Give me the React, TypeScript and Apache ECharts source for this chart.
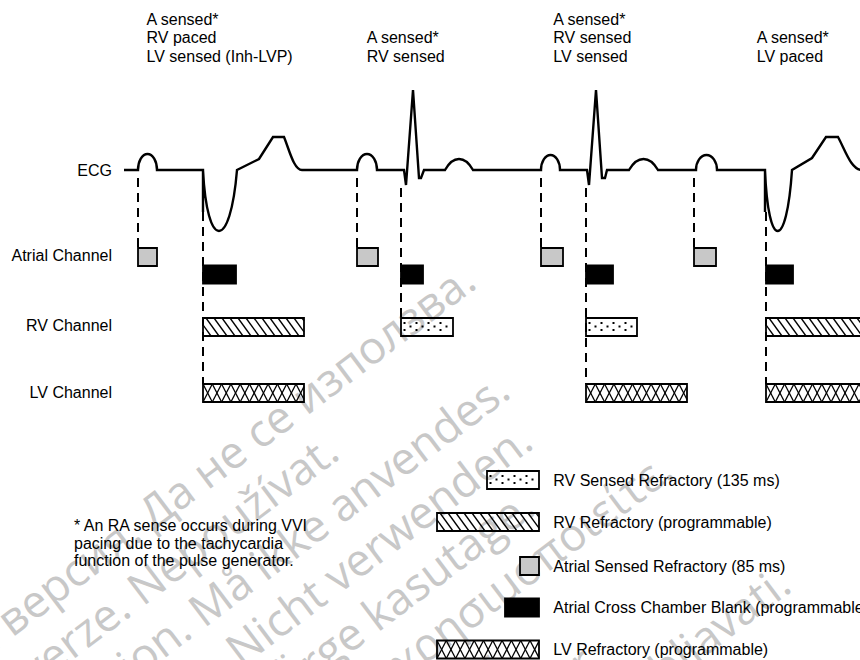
import { useEffect, useRef } from "react";
import * as echarts from "echarts";

const FONT = "'Liberation Sans', Arial, Helvetica, sans-serif";
const WM_FONT = "'Open Sans', 'Noto Sans', sans-serif";

// ---------------- data ----------------
// ECG trace: [shape, time, amplitude]  (P = P-wave dome, T = T-wave hump,
// S = pacing spike, U = paced QRS trough, D = curved return to baseline)
const ecgTrace: [string, number, number][] = [
  ["M", 124, 0],
  ["L", 138, 0],
  ["P", 157, 16],
  ["L", 203, 0],
  ["S", 203, -42],
  ["U", 237, -61],
  ["L", 259, 11],
  ["L", 273, 33],
  ["L", 284, 33],
  ["D", 302, 0],
  ["L", 357, 0],
  ["P", 377, 16],
  ["L", 404, 0],
  ["L", 406, -15],
  ["L", 413, 80],
  ["L", 419, -8],
  ["L", 421, -8],
  ["L", 424, 0],
  ["L", 445, 0],
  ["T", 473, 11],
  ["L", 541, 0],
  ["P", 560, 15],
  ["L", 587, 0],
  ["L", 589, -15],
  ["L", 596, 80],
  ["L", 602, -8],
  ["L", 605, -8],
  ["L", 607, 0],
  ["L", 629, 0],
  ["T", 658, 11],
  ["L", 696, 0],
  ["P", 717, 15],
  ["L", 765, 0],
  ["S", 765, -42],
  ["U", 792, -61],
  ["L", 812, 12],
  ["L", 826, 33],
  ["L", 838, 33],
  ["D", 862, 0],
];

const atrialRefStart = [138, 357, 541, 694];
const atrialRefEnd = [157, 378, 563, 716];
const blankStart = [203, 401, 586, 766];
const blankEnd = [236, 423, 613, 793];
const rvStart = [203, 401, 586, 766];
const rvEnd = [304, 453, 637, 900];
const rvKind = ["paced", "sensed", "sensed", "paced"];
const lvStart = [203, 586, 766];
const lvEnd = [304, 687, 900];

const markerTime = [138, 203, 357, 401, 541, 586, 694, 766];
const markerFromAmp = [-8, -42, -8, -18, -8, -18, -8, -42];
const markerLane = ["atrial", "lv", "atrial", "rv", "atrial", "lv", "atrial", "lv"];

const channelLabels = ["ECG", "Atrial Channel", "RV Channel", "LV Channel"];
const beatNotes = [
  "A sensed*\nRV paced\nLV sensed (Inh-LVP)",
  "A sensed*\nRV sensed",
  "A sensed*\nRV sensed\nLV sensed",
  "A sensed*\nLV paced",
];
const footnote =
  "* An RA sense occurs during VVI\npacing due to the tachycardia\nfunction of the pulse generator.";
const legendKinds = ["rvSensed", "rvRef", "atrialRef", "blank", "lvRef"];
const legendLabels = [
  "RV Sensed Refractory (135 ms)",
  "RV Refractory (programmable)",
  "Atrial Sensed Refractory (85 ms)",
  "Atrial Cross Chamber Blank (programmable)",
  "LV Refractory (programmable)",
];
const watermarkLines = [
  "Остаряла версия. Да не се използва.",
  "Zastaralá verze. Nepoužívat.",
  "Forældet version. Må ikke anvendes.",
  "Veraltete Version. Nicht verwenden.",
  "Aegunud versioon. Ärge kasutage.",
  "Παλιά έκδοση. Μην την χρησιμοποιείτε.",
  "Versión obsoleta. No utilizar.",
  "Version périmée. Ne pas utiliser.",
  "Zastarjela verzija. Nemojte upotrebljavati.",
];

// ---------------- layout ----------------
const LANES = ["atrial", "blank", "rv", "lv"];
const LANE_TOP: Record<string, number> = { atrial: -78, blank: -95.5, rv: -148, lv: -214 };
const BAR_H = 18;
const KINDS = ["atrialRef", "blank", "rvRef", "rvSensed", "lvRef"];
const LABEL_RIGHT = 112;
const LABEL_Y = [170, 255, 325, 392];
const NOTE_POS = [
  [146.5, 10],
  [366.7, 28.5],
  [553.3, 10],
  [756.7, 28.5],
];
const LEGEND_BOX = [
  [487, 471, 52, 18],
  [437, 513, 102, 18],
  [520, 557, 19, 18],
  [505, 598.5, 34, 18],
  [437, 640.5, 102, 18],
];
const LEGEND_TEXT_X = 553.3;
const WM_ANGLE = (37 * Math.PI) / 180;
const WM_SIZE = 45;
const WM_U0 = -592;
const WM_V0 = 515;
const WM_STEP = 54;

function clipSeg(x1: number, y1: number, x2: number, y2: number, xmin: number, xmax: number) {
  const dx = x2 - x1;
  let t0 = 0;
  let t1 = 1;
  if (dx !== 0) {
    let ta = (xmin - x1) / dx;
    let tb = (xmax - x1) / dx;
    if (ta > tb) [ta, tb] = [tb, ta];
    t0 = Math.max(0, ta);
    t1 = Math.min(1, tb);
  }
  if (t1 - t0 <= 1e-6) return null;
  return [x1 + dx * t0, y1 + (y2 - y1) * t0, x1 + dx * t1, y1 + (y2 - y1) * t1];
}

function swatchShapes(kind: string, x: number, y: number, w: number, h: number): any[] {
  const out: any[] = [];
  const border: any = {
    type: "rect",
    shape: { x, y, width: w, height: h },
    style: { fill: "none", stroke: "#000", lineWidth: 1.8 },
  };
  if (kind === "atrialRef") {
    border.style.fill = "#c8c8c8";
    return [border];
  }
  if (kind === "blank") {
    border.style.fill = "#000";
    return [border];
  }
  const line = (a: number, b: number, c: number, d: number) => {
    const s = clipSeg(a, b, c, d, x, x + w);
    if (s)
      out.push({
        type: "line",
        shape: { x1: s[0], y1: s[1], x2: s[2], y2: s[3] },
        style: { stroke: "#000", lineWidth: 1.3 },
      });
  };
  if (kind === "rvRef") {
    const step = 8;
    const dx = 13;
    for (let xt = x - dx; xt < x + w; xt += step) line(xt, y, xt + dx, y + h);
  } else if (kind === "lvRef") {
    const step = 9.3;
    for (let xt = x; xt < x + w; xt += step) {
      line(xt, y, xt + step, y + h);
      line(xt, y + h, xt + step, y);
    }
  } else if (kind === "rvSensed") {
    let i = 0;
    for (let cx = x + 3.5; cx < x + w - 2; cx += 6, i++) {
      const ys = i % 2 === 0 ? [y + 5, y + 12] : [y + 8.5];
      ys.forEach((cy) =>
        out.push({
          type: "rect",
          shape: { x: cx - 1, y: cy - 1, width: 2, height: 2 },
          style: { fill: "#000" },
        })
      );
    }
  }
  out.push(border);
  return out;
}

function ecgPathData(api: any): string {
  const f = (n: number) => n.toFixed(2);
  let d = "";
  let cur: number[] = [0, 0];
  let curT = 0;
  let curA = 0;
  for (const [c, t, a] of ecgTrace) {
    if (c === "M" || c === "L") {
      const p = api.coord([t, a]);
      d += `${c}${f(p[0])} ${f(p[1])} `;
      cur = p;
      curT = t;
      curA = a;
    } else if (c === "P") {
      const e = api.coord([t, curA]);
      const pk = api.coord([(curT + t) / 2, curA + a]);
      const k = 0.5523;
      const W = e[0] - cur[0];
      const H = cur[1] - pk[1];
      d += `C${f(cur[0])} ${f(cur[1] - k * H)} ${f(pk[0] - (k * W) / 2)} ${f(pk[1])} ${f(pk[0])} ${f(pk[1])} `;
      d += `C${f(pk[0] + (k * W) / 2)} ${f(pk[1])} ${f(e[0])} ${f(e[1] - k * H)} ${f(e[0])} ${f(e[1])} `;
      cur = e;
      curT = t;
    } else if (c === "T") {
      const e = api.coord([t, curA]);
      const pk = api.coord([(curT + t) / 2, curA + a]);
      const W = e[0] - cur[0];
      d += `Q${f(cur[0] + W * 0.22)} ${f(pk[1])} ${f(pk[0])} ${f(pk[1])} `;
      d += `Q${f(cur[0] + W * 0.78)} ${f(pk[1])} ${f(e[0])} ${f(e[1])} `;
      cur = e;
      curT = t;
    } else if (c === "S") {
      const p = api.coord([t, a]);
      d += `L${f(p[0])} ${f(p[1])} M${f(cur[0])} ${f(cur[1])} `;
    } else if (c === "U") {
      const e = api.coord([t, curA]);
      const b = api.coord([t, a]);
      const depth = (b[1] - cur[1]) / 0.75;
      const W = e[0] - cur[0];
      d += `C${f(cur[0] + 0.12 * W)} ${f(cur[1] + depth)} ${f(e[0] - 0.2 * W)} ${f(cur[1] + depth)} ${f(e[0])} ${f(e[1])} `;
      cur = e;
      curT = t;
    } else if (c === "D") {
      const e = api.coord([t, a]);
      const W = e[0] - cur[0];
      const H = e[1] - cur[1];
      d += `C${f(cur[0] + 0.3 * W)} ${f(cur[1] + 0.4 * H)} ${f(cur[0] + 0.55 * W)} ${f(e[1])} ${f(e[0])} ${f(e[1])} `;
      cur = e;
      curT = t;
      curA = a;
    }
  }
  return d;
}

function text(str: string, x: number, y: number, align: string, vAlign: string, lineHeight?: number) {
  return {
    type: "text",
    x,
    y,
    z: 100,
    silent: true,
    style: {
      text: str,
      fill: "#000",
      fontSize: 16,
      fontFamily: FONT,
      align,
      textAlign: align,
      verticalAlign: vAlign,
      textVerticalAlign: vAlign,
      lineHeight,
    },
  };
}

export default function App() {
  const ref = useRef<HTMLDivElement>(null);

  useEffect(() => {
    document.body.style.margin = "0";
    if (!ref.current) return;
    const chart = echarts.init(ref.current, undefined, { renderer: "svg" });

    const channelData: number[][] = [];
    atrialRefStart.forEach((s, i) => channelData.push([s, atrialRefEnd[i], 0, 0]));
    blankStart.forEach((s, i) => channelData.push([s, blankEnd[i], 1, 1]));
    rvStart.forEach((s, i) => channelData.push([s, rvEnd[i], 2, rvKind[i] === "sensed" ? 3 : 2]));
    lvStart.forEach((s, i) => channelData.push([s, lvEnd[i], 3, 4]));

    const markerData = markerTime.map((t, i) => [t, markerFromAmp[i], LANES.indexOf(markerLane[i])]);

    const graphics: any[] = [];
    graphics.push({
      type: "group",
      x: 0,
      y: 0,
      rotation: WM_ANGLE,
      z: -10,
      silent: true,
      children: watermarkLines.map((t, k) => ({
        type: "text",
        x: WM_U0,
        y: WM_V0 + WM_STEP * k - 0.35 * WM_SIZE,
        style: {
          text: t,
          fill: "#c8c8c8",
          fontSize: WM_SIZE,
          fontFamily: WM_FONT,
          align: "left",
          textAlign: "left",
          verticalAlign: "middle",
          textVerticalAlign: "middle",
        },
      })),
    });
    channelLabels.forEach((l, i) => graphics.push(text(l, LABEL_RIGHT, LABEL_Y[i], "right", "middle")));
    beatNotes.forEach((n, i) => graphics.push(text(n, NOTE_POS[i][0], NOTE_POS[i][1], "left", "top", 18.5)));
    graphics.push(text(footnote, 74, 517, "left", "top", 17.5));
    legendKinds.forEach((k, i) => {
      const [x, y, w, h] = LEGEND_BOX[i];
      graphics.push({ type: "group", z: 10, silent: true, children: swatchShapes(k, x, y, w, h) });
      graphics.push(text(legendLabels[i], LEGEND_TEXT_X, y + h / 2, "left", "middle"));
    });

    chart.setOption({
      animation: false,
      grid: { left: 0, right: 0, top: 0, bottom: 0 },
      xAxis: { type: "value", min: 0, max: 860, show: false },
      yAxis: { type: "value", min: -490, max: 170, show: false },
      graphic: { elements: graphics },
      series: [
        {
          type: "custom",
          name: "markers",
          z: 3,
          data: markerData,
          renderItem: (_p: any, api: any) => {
            const lane = LANES[api.value(2)];
            const a = api.coord([api.value(0), api.value(1)]);
            const b = api.coord([api.value(0), LANE_TOP[lane]]);
            return {
              type: "line",
              shape: { x1: a[0], y1: a[1], x2: b[0], y2: b[1] },
              style: { stroke: "#000", lineWidth: 2, lineDash: [9, 6] },
            };
          },
        },
        {
          type: "custom",
          name: "channels",
          z: 4,
          data: channelData,
          renderItem: (_p: any, api: any) => {
            const lane = LANES[api.value(2)];
            const kind = KINDS[api.value(3)];
            const top = LANE_TOP[lane];
            const p0 = api.coord([api.value(0), top]);
            const p1 = api.coord([api.value(1), top - BAR_H]);
            return {
              type: "group",
              children: swatchShapes(kind, p0[0], p0[1], p1[0] - p0[0], p1[1] - p0[1]),
            };
          },
        },
        {
          type: "custom",
          name: "ECG",
          z: 5,
          data: [[0, 0]],
          renderItem: (_p: any, api: any) => ({
            type: "path",
            shape: { pathData: ecgPathData(api) },
            style: { fill: "none", stroke: "#000", lineWidth: 2.4 },
          }),
        },
      ],
    });

    return () => chart.dispose();
  }, []);

  return <div ref={ref} style={{ width: 860, height: 660 }} />;
}
